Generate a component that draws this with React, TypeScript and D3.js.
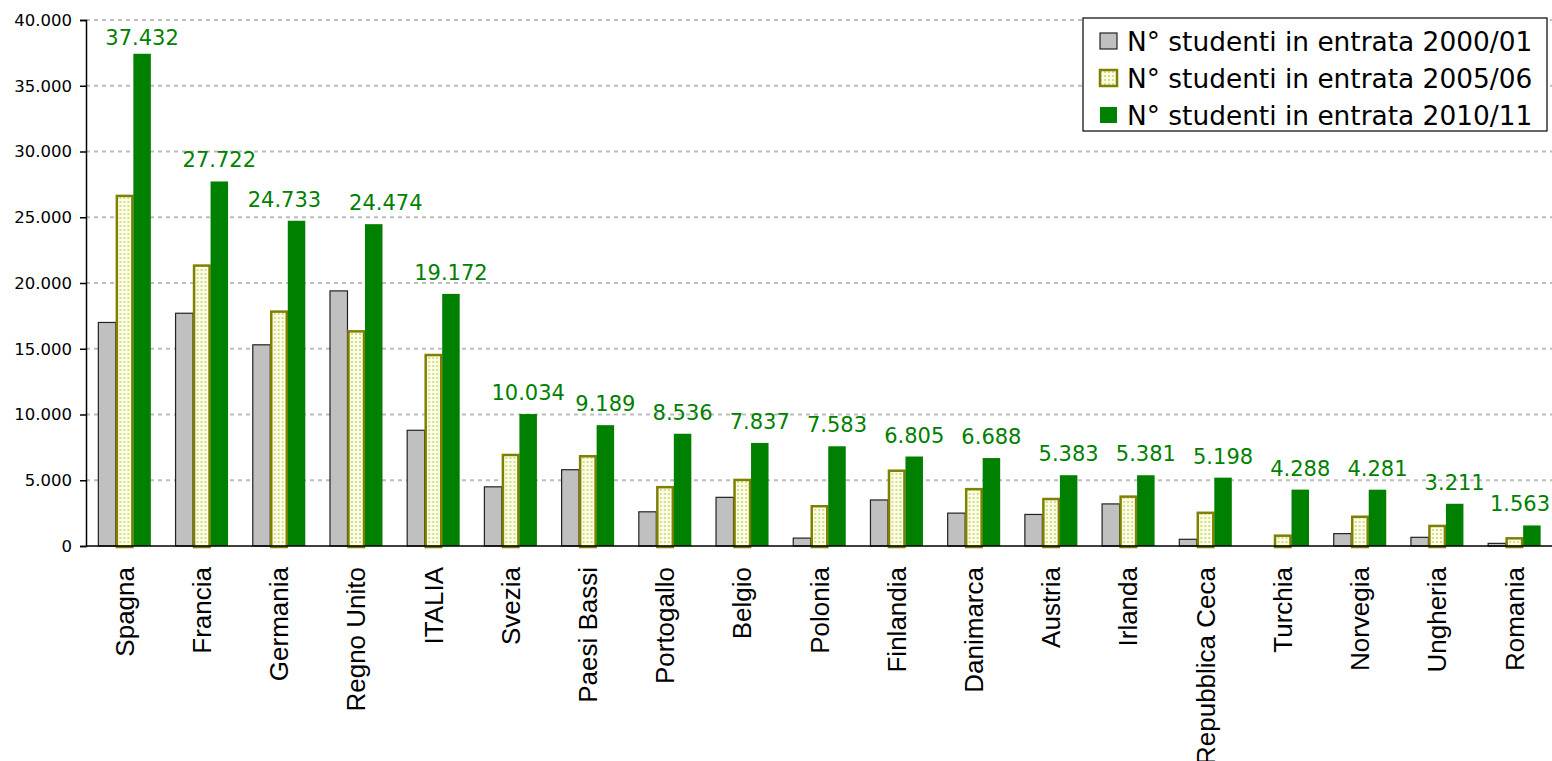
import { useEffect, useRef } from 'react';
import * as d3 from 'd3';

const categories = [
  'Spagna', 'Francia', 'Germania', 'Regno Unito', 'ITALIA', 'Svezia', 'Paesi Bassi',
  'Portogallo', 'Belgio', 'Polonia', 'Finlandia', 'Danimarca', 'Austria', 'Irlanda',
  'Repubblica Ceca', 'Turchia', 'Norvegia', 'Ungheria', 'Romania'
];

const students2000 = [
  17000, 17700, 15300, 19400, 8800, 4500, 5800, 2600, 3700, 600, 3500, 2500, 2400, 3200, 510,
  0, 940, 660, 200
];

const students2005 = [
  26700, 21400, 17900, 16400, 14600, 7000, 6900, 4550, 5100, 3100, 5800, 4400, 3650, 3830, 2600,
  860, 2300, 1600, 660
];

const students2010 = [
  37432, 27722, 24733, 24474, 19172, 10034, 9189, 8536, 7837, 7583, 6805, 6688, 5383, 5381, 5198,
  4288, 4281, 3211, 1563
];

const seriesNames = [
  'N° studenti in entrata 2000/01',
  'N° studenti in entrata 2005/06',
  'N° studenti in entrata 2010/11'
];

const yTicks = [0, 5000, 10000, 15000, 20000, 25000, 30000, 35000, 40000];

const WIDTH = 1552;
const HEIGHT = 761;

const itLocale = d3.formatLocale({ decimal: ',', thousands: '.', grouping: [3], currency: ['', ''] });
const fmt = itLocale.format(',');

type Row = { name: string; a: number; b: number; c: number };

export default function App() {
  const ref = useRef<SVGSVGElement | null>(null);

  useEffect(() => {
    if (!ref.current) return;
    const svg = d3.select(ref.current);
    svg.selectAll('*').remove();

    const rows: Row[] = categories.map((name, i) => ({
      name,
      a: students2000[i],
      b: students2005[i],
      c: students2010[i]
    }));

    const margin = { left: 86, right: -1, top: 20, bottom: 215 };
    const x = d3
      .scaleBand<string>()
      .domain(categories)
      .range([margin.left, WIDTH - margin.right])
      .paddingInner(0.32)
      .paddingOuter(0.16);
    const xs = d3.scaleBand<number>().domain([0, 1, 2]).range([0, x.bandwidth()]);
    const y = d3.scaleLinear().domain([0, 40000]).range([HEIGHT - margin.bottom, margin.top]);

    // dotted fill for the 2005/06 series
    const defs = svg.append('defs');
    const pat = defs
      .append('pattern')
      .attr('id', 'dots')
      .attr('patternUnits', 'userSpaceOnUse')
      .attr('width', 4)
      .attr('height', 4);
    pat.append('rect').attr('width', 4).attr('height', 4).attr('fill', '#fdfde6');
    pat.append('rect').attr('x', 1).attr('y', 1).attr('width', 2).attr('height', 2).attr('fill', '#cfe08c');

    // grid
    svg
      .append('g')
      .selectAll('line')
      .data(yTicks.filter((t) => t > 0))
      .enter()
      .append('line')
      .attr('x1', margin.left)
      .attr('x2', WIDTH)
      .attr('y1', (d) => y(d))
      .attr('y2', (d) => y(d))
      .attr('stroke', '#bdbdbd')
      .attr('stroke-width', 2)
      .attr('stroke-dasharray', '4,4');

    // y axis
    const yAxis = svg
      .append('g')
      .attr('transform', `translate(${margin.left},0)`)
      .call(
        d3
          .axisLeft(y)
          .tickValues(yTicks)
          .tickSize(6)
          .tickPadding(8)
          .tickFormat((d) => fmt(d as number))
      );
    yAxis.select('.domain').attr('stroke', '#000').attr('stroke-width', 1.5);
    yAxis.selectAll('.tick line').attr('stroke', '#000').attr('stroke-width', 1.5);
    yAxis
      .selectAll('.tick text')
      .attr('fill', '#000')
      .style('font-family', '"DejaVu Sans", Verdana, sans-serif')
      .style('font-size', '16.5px');

    const groups = svg
      .append('g')
      .selectAll('g')
      .data(rows)
      .enter()
      .append('g')
      .attr('transform', (d) => `translate(${x(d.name)},0)`);

    // 2000/01
    groups
      .filter((d) => d.a > 0)
      .append('rect')
      .attr('x', xs(0)!)
      .attr('width', xs.bandwidth())
      .attr('y', (d) => y(d.a))
      .attr('height', (d) => y(0) - y(d.a))
      .attr('fill', '#c0c0c0')
      .attr('stroke', '#222')
      .attr('stroke-width', 1.2);

    // 2005/06
    groups
      .append('rect')
      .attr('x', xs(1)! + 1)
      .attr('width', xs.bandwidth() - 2)
      .attr('y', (d) => y(d.b) + 1)
      .attr('height', (d) => y(0) - y(d.b))
      .attr('fill', 'url(#dots)')
      .attr('stroke', '#808000')
      .attr('stroke-width', 2.5);

    // 2010/11
    groups
      .append('rect')
      .attr('x', xs(2)!)
      .attr('width', xs.bandwidth())
      .attr('y', (d) => y(d.c))
      .attr('height', (d) => y(0) - y(d.c))
      .attr('fill', '#008000');

    // value labels on 2010/11 bars, nudged apart when neighbours almost touch
    const labelSize = 21;
    const labels = rows.map((d) => {
      const s = fmt(d.c);
      const w = (s.replace('.', '').length * 0.636 + 0.318) * labelSize;
      const cx = x(d.name)! + xs(2)! + xs.bandwidth() / 2;
      return { s, w, cx: Math.min(cx, WIDTH - 2 - w / 2), by: Math.max(y(d.c) - 14, 45) };
    });
    for (let i = 0; i < labels.length - 1; i++) {
      const l = labels[i];
      const r = labels[i + 1];
      if (Math.abs(l.by - r.by) > labelSize) continue;
      const gap = r.cx - r.w / 2 - (l.cx + l.w / 2);
      if (gap < 10) {
        const dx = (28 - gap) / 2;
        l.cx -= dx;
        r.cx += dx;
      }
    }

    svg
      .append('g')
      .selectAll('text')
      .data(labels)
      .enter()
      .append('text')
      .attr('x', (d) => d.cx)
      .attr('y', (d) => d.by)
      .attr('text-anchor', 'middle')
      .attr('fill', '#008000')
      .style('font-family', '"DejaVu Sans", Verdana, sans-serif')
      .style('font-size', `${labelSize}px`)
      .text((d) => d.s);

    // x axis line
    svg
      .append('line')
      .attr('x1', margin.left)
      .attr('x2', WIDTH)
      .attr('y1', y(0))
      .attr('y2', y(0))
      .attr('stroke', '#000')
      .attr('stroke-width', 1.5);

    // category labels
    svg
      .append('g')
      .selectAll('text')
      .data(categories)
      .enter()
      .append('text')
      .attr('transform', (d) => `translate(${x(d)! + x.bandwidth() / 2},${y(0) + 21}) rotate(-90)`)
      .attr('text-anchor', 'end')
      .attr('dy', '0.35em')
      .attr('fill', '#000')
      .style('font-family', '"Liberation Sans", Arial, sans-serif')
      .style('font-size', '26px')
      .text((d) => d);

    // legend
    const legend = svg.append('g').attr('transform', 'translate(1083,18)');
    legend
      .append('rect')
      .attr('width', 464)
      .attr('height', 113)
      .attr('fill', '#fff')
      .attr('stroke', '#000')
      .attr('stroke-width', 1.2);

    const swatches = [
      { fill: '#c0c0c0', stroke: '#222', sw: 1.2 },
      { fill: 'url(#dots)', stroke: '#808000', sw: 2.5 },
      { fill: '#008000', stroke: 'none', sw: 0 }
    ];

    seriesNames.forEach((name, i) => {
      const row = legend.append('g').attr('transform', `translate(0,${23 + i * 37})`);
      row
        .append('rect')
        .attr('x', 17)
        .attr('y', -8)
        .attr('width', 17)
        .attr('height', 16)
        .attr('fill', swatches[i].fill)
        .attr('stroke', swatches[i].stroke)
        .attr('stroke-width', swatches[i].sw);
      row
        .append('text')
        .attr('x', 44)
        .attr('dy', '0.36em')
        .attr('fill', '#000')
        .style('font-family', '"DejaVu Sans", Verdana, sans-serif')
        .style('font-size', '26.4px')
        .text(name);
    });
  }, []);

  return (
    <svg
      ref={ref}
      width={WIDTH}
      height={HEIGHT}
      style={{ position: 'absolute', left: 0, top: 0, background: '#fff' }}
    />
  );
}
